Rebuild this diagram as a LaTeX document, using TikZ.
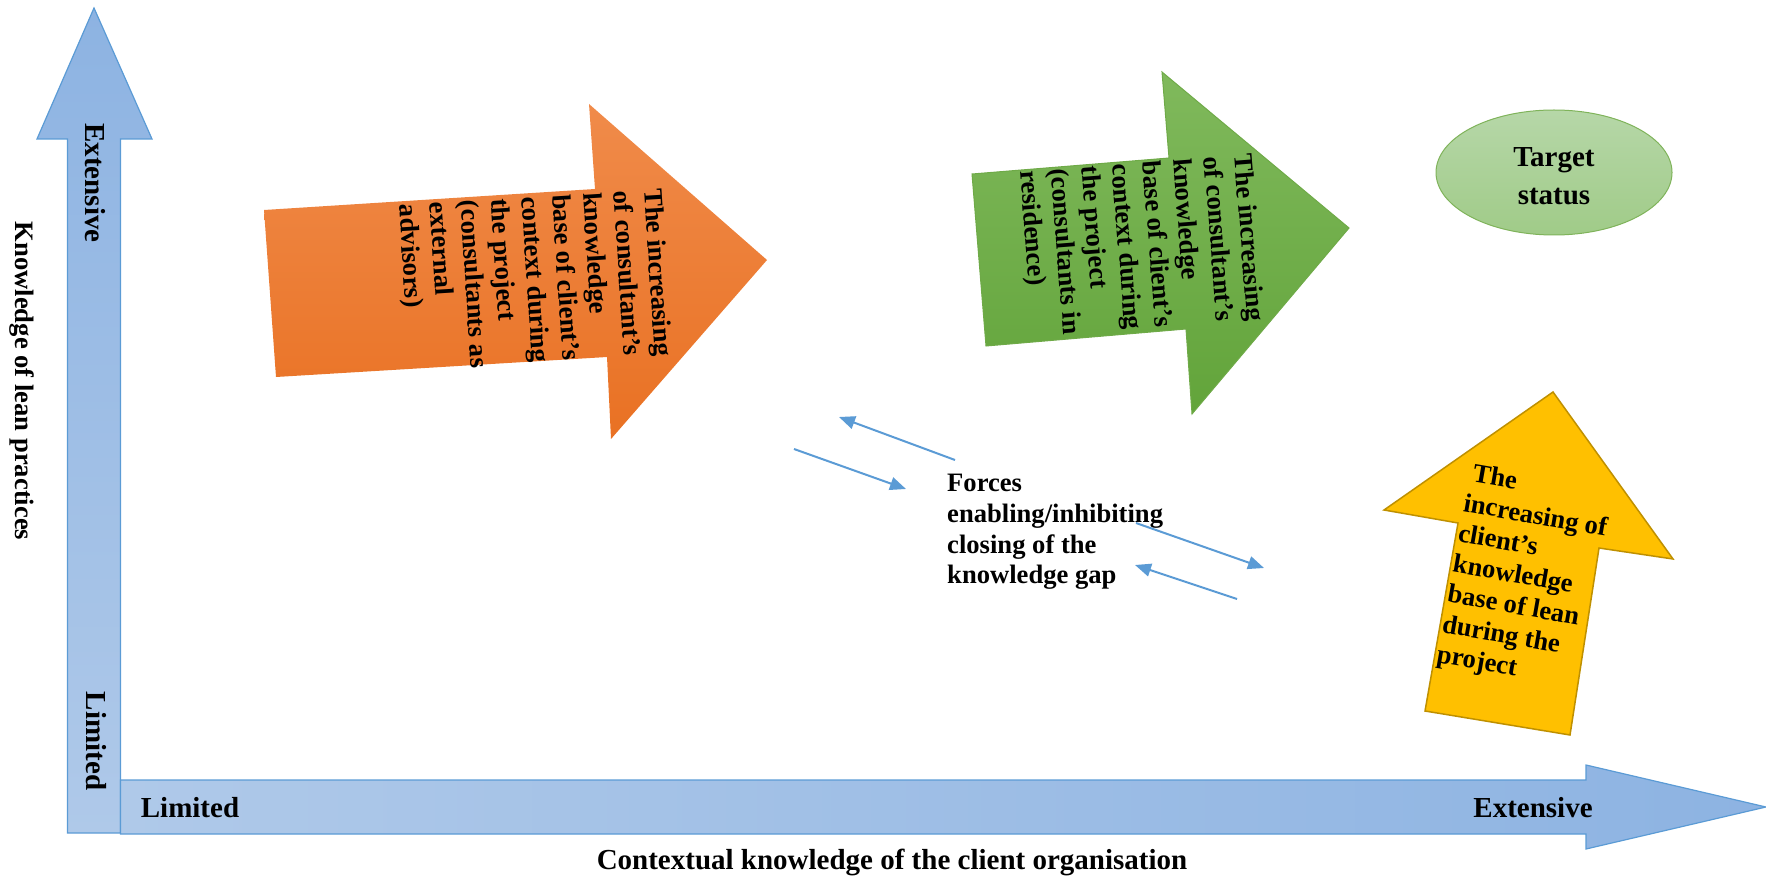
\documentclass[tikz,border=0pt]{standalone}
\usepackage{fontspec}
\setmainfont{Liberation Serif}
\usetikzlibrary{arrows.meta}

\definecolor{axisedge}{HTML}{5B9BD5}
\definecolor{axisdark}{HTML}{8DB3E2}
\definecolor{axislight}{HTML}{AFC9E9}
\definecolor{orangetop}{HTML}{F08B4A}
\definecolor{orangebot}{HTML}{E97123}
\definecolor{greentop}{HTML}{80B95C}
\definecolor{greenbot}{HTML}{62A43A}
\definecolor{greenedge}{HTML}{6FAA48}
\definecolor{ovaltop}{HTML}{B6D7A8}
\definecolor{ovalbot}{HTML}{A0CB88}
\definecolor{ovaledge}{HTML}{7FB35A}
\definecolor{goldfill}{HTML}{FFC000}
\definecolor{goldedge}{HTML}{BF9000}
\definecolor{forceblue}{HTML}{5B9BD5}

\tikzset{
  bodytext/.style={font=\bfseries\fontsize{26.6}{30.7}\selectfont, inner sep=0pt, align=left},
  axistext/.style={font=\bfseries\fontsize{29}{33}\selectfont, inner sep=0pt},
  axisshape/.style={draw=axisedge, line width=1.2pt},
  force/.style={draw=forceblue, line width=2pt, -{Triangle[length=16pt,width=13pt]}},
}

\begin{document}
\begin{tikzpicture}[x=1pt,y=-1pt]
\useasboundingbox (0,0) rectangle (1766,877);

% vertical axis: knowledge of lean practices
\shadedraw[axisshape, top color=axisdark, bottom color=axislight]
  (67.5,833) -- (67.5,139) -- (37,139) -- (94,8) -- (152,139) -- (120.5,139) -- (120.5,833) -- cycle;

% horizontal axis: contextual knowledge
\shadedraw[axisshape, left color=axislight, right color=axisdark]
  (120.5,780) -- (1586,780) -- (1586,765) -- (1766,807) -- (1586,849) -- (1586,834) -- (120.5,834) -- cycle;

% axis labels
\node[axistext, rotate=-90] (yext) at (95,183) {Extensive};
\node[axistext, rotate=-90] (ylim) at (96,741) {Limited};
\node[bodytext, rotate=-90] (ytitle) at (22,381) {Knowledge of lean practices};
\node[axistext] (xlim) at (190,808) {Limited};
\node[axistext] (xext) at (1533,808) {Extensive};
\node[axistext] (xtitle) at (892,862) {Contextual knowledge of the client organisation};

% consultants as external advisors
\shade[top color=orangetop, bottom color=orangebot]
  (264,210) -- (595,189) -- (589,104) -- (767,260) -- (611,439) -- (607,357) -- (276,377) -- cycle;
\node[bodytext, rotate=-86.4, anchor=north west] (advisors) at (663,188)
  {The increasing\\of consultant’s\\knowledge\\base of client’s\\context during\\the project\\(consultants as\\external\\advisors)};

% consultants in residence
\shadedraw[draw=greenedge, line width=1pt, top color=greentop, bottom color=greenbot]
  (972,174) -- (1169,158) -- (1162,72) -- (1349,228) -- (1192,414) -- (1186,329) -- (986,346) -- cycle;
\node[bodytext, rotate=-85.5, anchor=north west] (residence) at (1253,153)
  {The increasing\\of consultant’s\\knowledge\\base of client’s\\context during\\the project\\(consultants in\\residence)};

% target status
\shadedraw[draw=ovaledge, line width=1pt, top color=ovaltop, bottom color=ovalbot]
  (1554,172.5) ellipse [x radius=118, y radius=62.5];
\node[font=\bfseries\fontsize{29}{38}\selectfont, inner sep=0pt, align=center] (target) at (1554,176) {Target\\status};

% client's knowledge of lean
\filldraw[fill=goldfill, draw=goldedge, line width=1.5pt]
  (1553,392) -- (1673,559) -- (1599,548) -- (1570,735) -- (1425,711) -- (1458,523) -- (1384,510) -- cycle;
\node[bodytext, rotate=-10, anchor=north west] (clientlean) at (1471,462.5)
  {\hspace*{4pt}The\\increasing of\\client’s\\knowledge\\base of lean\\during the\\project};

% forces acting on the knowledge gap
\node[bodytext, anchor=north west] (forces) at (947,474)
  {Forces\\enabling/inhibiting\\closing of the\\knowledge gap};

\coordinate (f1s) at (955,460);  \coordinate (f1e) at (839,417);
\coordinate (f2s) at (794,449);  \coordinate (f2e) at (906,489);
\coordinate (f3s) at (1136,523); \coordinate (f3e) at (1264,568);
\coordinate (f4s) at (1237,599); \coordinate (f4e) at (1135,565);
\draw[force] (f1s) -- (f1e);
\draw[force] (f2s) -- (f2e);
\draw[force] (f3s) -- (f3e);
\draw[force] (f4s) -- (f4e);
\end{tikzpicture}
\end{document}
